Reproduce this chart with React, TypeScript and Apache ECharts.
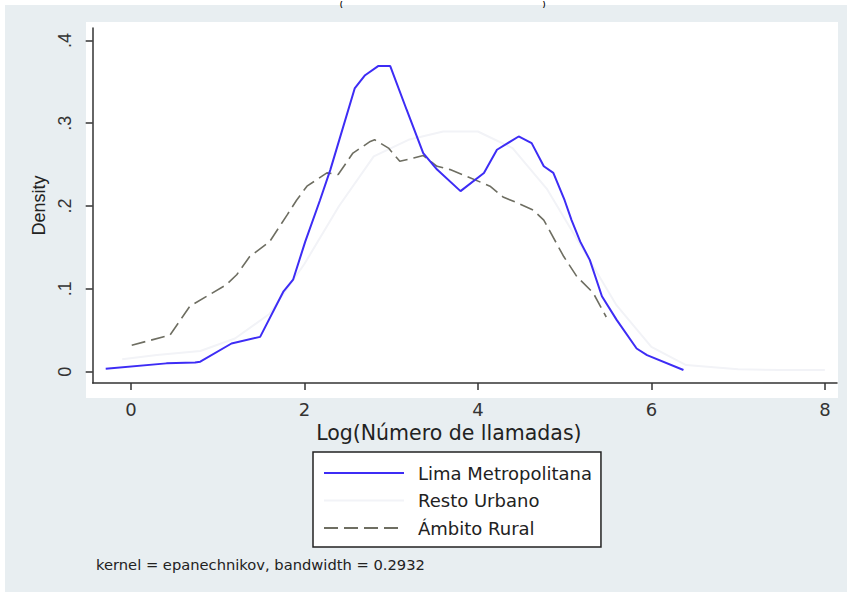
import React, { useEffect, useRef } from "react";
import * as echarts from "echarts";

const xTicks = [0, 2, 4, 6, 8];
const yTicks = [0, 0.1, 0.2, 0.3, 0.4];

const seriesNames = ["Lima Metropolitana", "Resto Urbano", "Ámbito Rural"];

const limaX = [-0.29, 0.41, 0.74, 0.80, 1.16, 1.49, 1.76, 1.87, 2.01, 2.18, 2.30, 2.58, 2.70, 2.85, 2.99, 3.18, 3.37, 3.53, 3.80, 4.07, 4.22, 4.47, 4.62, 4.76, 4.87, 5.0, 5.08, 5.18, 5.29, 5.43, 5.60, 5.83, 5.95, 6.37];
const limaY = [0.0036, 0.010, 0.011, 0.012, 0.034, 0.042, 0.097, 0.111, 0.157, 0.207, 0.244, 0.342, 0.358, 0.369, 0.369, 0.316, 0.264, 0.244, 0.218, 0.240, 0.268, 0.284, 0.276, 0.248, 0.240, 0.207, 0.183, 0.157, 0.135, 0.091, 0.0625, 0.028, 0.020, 0.002];

const restoX = [-0.1, 0.3, 0.8, 1.2, 1.6, 2.0, 2.4, 2.8, 3.2, 3.6, 4.0, 4.4, 4.8, 5.2, 5.6, 6.0, 6.4, 7.0, 7.5, 8.0];
const restoY = [0.015, 0.02, 0.025, 0.04, 0.07, 0.13, 0.2, 0.26, 0.28, 0.29, 0.29, 0.27, 0.22, 0.15, 0.08, 0.03, 0.008, 0.003, 0.002, 0.002];

const ruralX = [0.01, 0.45, 0.68, 1.10, 1.22, 1.37, 1.60, 1.80, 1.91, 2.03, 2.26, 2.39, 2.56, 2.76, 2.81, 2.97, 3.10, 3.26, 3.37, 3.53, 3.68, 3.87, 4.14, 4.29, 4.45, 4.64, 4.76, 4.99, 5.14, 5.33, 5.48];
const ruralY = [0.032, 0.044, 0.079, 0.105, 0.117, 0.139, 0.157, 0.189, 0.207, 0.224, 0.240, 0.238, 0.264, 0.278, 0.280, 0.270, 0.254, 0.258, 0.261, 0.248, 0.244, 0.236, 0.224, 0.211, 0.204, 0.195, 0.183, 0.139, 0.115, 0.095, 0.066];

const zip = (xs: number[], ys: number[]) => xs.map((x, i) => [x, ys[i]]);

const FONT = "Liberation Sans, Arial, sans-serif";
const WIDE = "DejaVu Sans, Verdana, sans-serif";

export default function App() {
  const ref = useRef<HTMLDivElement>(null);
  useEffect(() => {
    if (!ref.current) return;
    const chart = echarts.init(ref.current, undefined, { renderer: "svg" });
    chart.setOption({
      animation: false,
      backgroundColor: "#ffffff",
      textStyle: { fontFamily: FONT },
      graphic: [
        { type: "rect", shape: { x: 5, y: 5, width: 842, height: 587 }, style: { fill: "#e8eef1" }, z: -10, silent: true },
        { type: "rect", shape: { x: 86, y: 22, width: 752, height: 376 }, style: { fill: "#ffffff" }, z: -9, silent: true },
        { type: "text", x: 340, y: 0, style: { text: "(", font: "bold 7px " + FONT, fill: "#000000" } },
        { type: "text", x: 543, y: 0, style: { text: ")", font: "bold 7px " + FONT, fill: "#000000" } },
        { type: "text", x: 96, y: 557, style: { text: "kernel = epanechnikov, bandwidth = 0.2932", font: "14.7px " + WIDE, fill: "#222" } },
      ],
      grid: { left: 92.7, right: 10, top: 28, bottom: 209, containLabel: false },
      xAxis: {
        type: "value",
        min: -0.44,
        max: 8.14,
        name: "Log(Número de llamadas)",
        nameLocation: "middle",
        nameGap: 33,
        nameTextStyle: { fontSize: 20.5, color: "#222", fontFamily: WIDE, padding: [0, 32, 0, 0] },
        axisLine: { show: true, onZero: false, lineStyle: { color: "#333", width: 1.5 } },
        axisTick: { show: true, length: 7, lineStyle: { color: "#333", width: 1.5 }, customValues: xTicks },
        axisLabel: { fontSize: 18, color: "#333", margin: 17, fontFamily: WIDE, customValues: xTicks, formatter: (v: number) => String(v) },
        splitLine: { show: false },
      },
      yAxis: {
        type: "value",
        min: -0.0137,
        max: 0.415,
        name: "Density",
        nameLocation: "middle",
        nameGap: 44,
        nameRotate: 90,
        nameTextStyle: { fontSize: 18, color: "#222", fontFamily: FONT },
        axisLine: { show: true, onZero: false, lineStyle: { color: "#333", width: 1.5 } },
        axisTick: { show: true, length: 7, lineStyle: { color: "#333", width: 1.5 }, customValues: yTicks },
        axisLabel: {
          fontSize: 18,
          color: "#333",
          rotate: 90,
          margin: 19,
          customValues: yTicks,
          formatter: (v: number) => (v === 0 ? "0" : "." + Math.round(v * 10)),
        },
        splitLine: { show: false },
      },
      legend: {
        orient: "vertical",
        left: 313,
        top: 452,
        data: seriesNames,
        backgroundColor: "#ffffff",
        borderColor: "#222",
        borderWidth: 1.5,
        borderRadius: 0,
        padding: [12, 9, 10, 10],
        itemWidth: 80,
        itemHeight: 14,
        itemGap: 9.5,
        itemStyle: { opacity: 0 },
        textStyle: { fontSize: 18, color: "#222", lineHeight: 18, padding: [0, 0, 0, 9], fontFamily: WIDE },
        selectedMode: false,
      },
      series: [
        {
          name: seriesNames[0],
          type: "line",
          data: zip(limaX, limaY),
          symbol: "none",
          lineStyle: { color: "#3d2cf5", width: 2 },
          itemStyle: { color: "#3d2cf5" },
          z: 3,
        },
        {
          name: seriesNames[1],
          type: "line",
          data: zip(restoX, restoY),
          symbol: "none",
          lineStyle: { color: "#f2f3f7", width: 2 },
          itemStyle: { color: "#f2f3f7" },
          z: 1,
        },
        {
          name: seriesNames[2],
          type: "line",
          data: zip(ruralX, ruralY),
          symbol: "none",
          lineStyle: { color: "#6e6e62", width: 1.6, type: [14, 6] },
          itemStyle: { color: "#6e6e62" },
          z: 2,
        },
      ],
    });
    return () => chart.dispose();
  }, []);
  return <div ref={ref} style={{ position: "fixed", left: 0, top: 0, width: 847, height: 592 }} />;
}
